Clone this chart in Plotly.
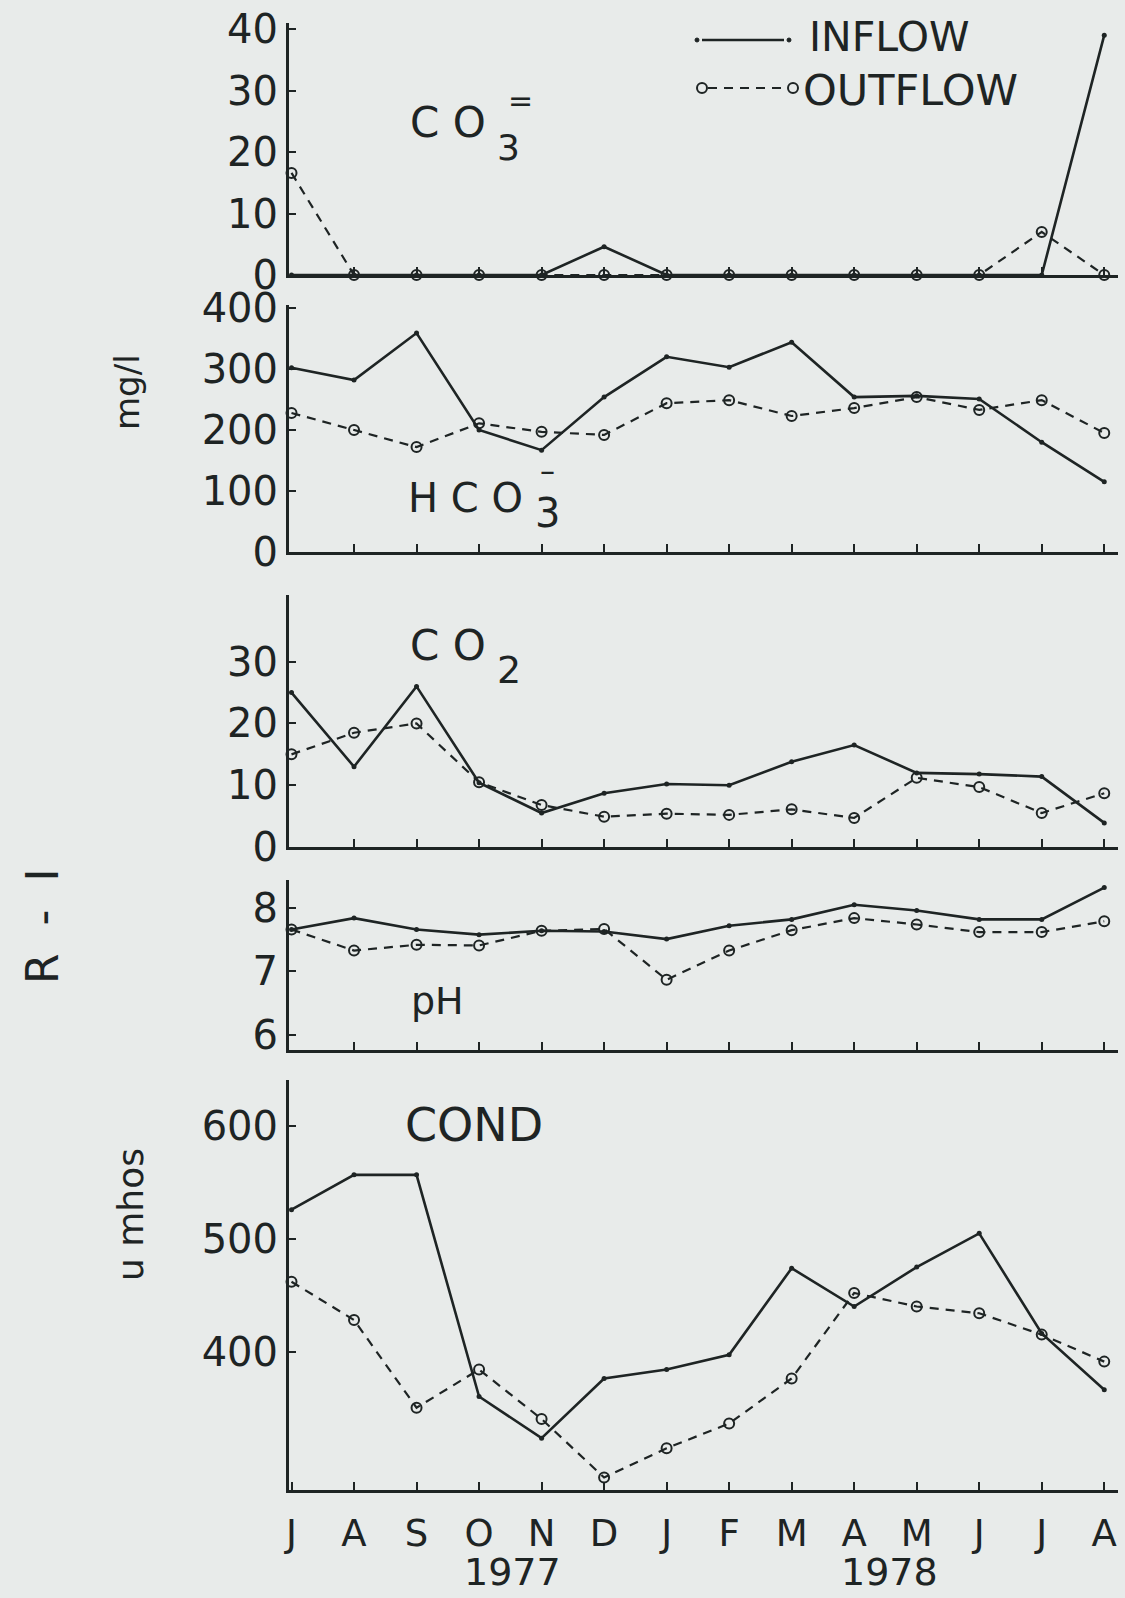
import plotly.graph_objects as go

# ---------------- data ----------------
months = ["J", "A", "S", "O", "N", "D", "J", "F", "M", "A", "M", "J", "J", "A"]
years = ["1977", "1978"]
x_idx = list(range(len(months)))

co3_inflow = [0, 0, 0, 0, 0, 4.6, 0, 0, 0, 0, 0, 0, 0, 39.0]
co3_outflow = [16.6, 0, 0, 0, 0, 0, 0, 0, 0, 0, 0, 0, 7.0, 0]

hco3_inflow = [302, 282, 359, 200, 167, 254, 320, 303, 344, 254, 256, 251, 180, 115]
hco3_outflow = [228, 200, 172, 211, 197, 192, 244, 249, 223, 236, 254, 233, 249, 195]

co2_inflow = [25, 13, 26, 10.4, 5.5, 8.7, 10.2, 10, 13.8, 16.5, 12, 11.8, 11.4, 3.9]
co2_outflow = [15, 18.5, 20, 10.5, 6.8, 4.9, 5.4, 5.2, 6.1, 4.7, 11.2, 9.7, 5.5, 8.7]

ph_inflow = [7.66, 7.84, 7.66, 7.58, 7.64, 7.63, 7.51, 7.72, 7.82, 8.05, 7.96, 7.82, 7.82, 8.32]
ph_outflow = [7.66, 7.33, 7.42, 7.41, 7.64, 7.67, 6.87, 7.33, 7.65, 7.84, 7.74, 7.62, 7.62, 7.79]

cond_inflow = [526, 557, 557, 360, 323, 376, 384, 397, 474, 440, 475, 505, 416, 366]
cond_outflow = [462, 428, 350, 384, 340, 288, 314, 336, 376, 452, 440, 434, 415, 391]

co3_ticks = [0, 10, 20, 30, 40]
hco3_ticks = [0, 100, 200, 300, 400]
co2_ticks = [0, 10, 20, 30]
ph_ticks = [6, 7, 8]
cond_ticks = [400, 500, 600]

# ---------------- style / layout ----------------
W, H = 1125, 1598
ML, MR = 289, 7
PW = W - ML - MR
BG = "#e8ebea"
INK = "#1e2424"
FONT = "DejaVu Sans"


def py(p):
    return 1 - p / H


def px(p):
    return (p - ML) / PW


panels = [
    # (inflow, outflow, ticks, y-range, top px, bottom px)
    (co3_inflow, co3_outflow, co3_ticks, [0, 40.98], 23, 275),
    (hco3_inflow, hco3_outflow, hco3_ticks, [0, 405], 305, 552),
    (co2_inflow, co2_outflow, co2_ticks, [0, 40.8], 595, 847),
    (ph_inflow, ph_outflow, ph_ticks, [5.764, 8.44], 880, 1050),
    (cond_inflow, cond_outflow, cond_ticks, [276.9, 641.3], 1080, 1490),
]

fig = go.Figure()
layout = dict(
    width=W, height=H,
    margin=dict(l=ML, r=MR, t=0, b=0, pad=0),
    paper_bgcolor=BG, plot_bgcolor=BG,
    showlegend=False,
    template="none",
    font=dict(family=FONT, color=INK),
)

for i, (inf, outf, ticks, yr, top, bot) in enumerate(panels):
    n = i + 1
    xa = "x" if n == 1 else f"x{n}"
    ya = "y" if n == 1 else f"y{n}"
    fig.add_trace(go.Scatter(
        x=x_idx, y=outf, xaxis=xa, yaxis=ya, mode="lines+markers",
        line=dict(color=INK, width=2.2, dash="9px,7px"),
        marker=dict(symbol="circle-open", size=10, color=INK, line=dict(width=2, color=INK)),
        cliponaxis=False, name="OUTFLOW"))
    fig.add_trace(go.Scatter(
        x=x_idx, y=inf, xaxis=xa, yaxis=ya, mode="lines+markers",
        line=dict(color=INK, width=2.6),
        marker=dict(symbol="circle", size=5, color=INK),
        cliponaxis=False, name="INFLOW"))
    last = n == len(panels)
    layout["xaxis" if n == 1 else f"xaxis{n}"] = dict(
        domain=[0, 1], anchor=ya, range=[-0.04, 13.22],
        showline=True, linewidth=3, linecolor=INK,
        ticks="inside", ticklen=8, tickwidth=2, tickcolor=INK,
        tickvals=x_idx[1:] if not last else x_idx,
        ticktext=months[1:] if not last else months,
        showticklabels=last, ticklabelstandoff=9,
        tickfont=dict(size=37, family=FONT, color=INK),
        showgrid=False, zeroline=False, fixedrange=True,
    )
    layout["yaxis" if n == 1 else f"yaxis{n}"] = dict(
        domain=[py(bot), py(top)], anchor=xa, range=yr,
        showline=True, linewidth=3, linecolor=INK,
        ticks="inside", ticklen=7, tickwidth=2, tickcolor=INK,
        tickvals=ticks, ticktext=[str(t) for t in ticks],
        ticklabelstandoff=0,
        tickfont=dict(size=40, family=FONT, color=INK),
        showgrid=False, zeroline=False, fixedrange=True,
    )

fig.update_layout(**layout)


def note(text, x, y, size, angle=0, xanchor="center"):
    fig.add_annotation(text=text, x=px(x), y=py(y), xref="paper", yref="paper",
                       showarrow=False, xanchor=xanchor, yanchor="middle",
                       textangle=angle, font=dict(family=FONT, size=size, color=INK))


# panel labels
note("C O", 448, 122, 42)
note("3", 508, 147, 36)
note("=", 520, 100, 30)
note("H C O", 465, 498, 40)
note("3", 547, 513, 40)
note("\u2013", 547, 471, 30)
note("C O", 448, 645, 42)
note("2", 509, 670, 38)
note("pH", 437, 1001, 38)
note("COND", 474, 1125, 46)

# axis side labels
note("mg/l", 127, 392, 34, angle=-90)
note("R  -  I", 42, 926, 44, angle=-90)
note("u mhos", 130, 1215, 36, angle=-90)

# year labels
note(years[0], 512, 1572, 38)
note(years[1], 889, 1572, 38)

# legend
note("INFLOW", 807, 37, 41, xanchor="left")
note("OUTFLOW", 801, 90, 43, xanchor="left")
fig.add_shape(type="line", xref="paper", yref="paper",
              x0=px(702), x1=px(784), y0=py(40), y1=py(40),
              line=dict(color=INK, width=2.5))
for cx in (697, 789):
    fig.add_shape(type="circle", xref="paper", yref="paper",
                  x0=px(cx - 2), x1=px(cx + 2), y0=py(42), y1=py(38),
                  line=dict(color=INK, width=1), fillcolor=INK)
fig.add_shape(type="line", xref="paper", yref="paper",
              x0=px(708), x1=px(788), y0=py(88), y1=py(88),
              line=dict(color=INK, width=2, dash="9px,7px"))
for cx in (702, 793):
    fig.add_shape(type="circle", xref="paper", yref="paper",
                  x0=px(cx - 5), x1=px(cx + 5), y0=py(93), y1=py(83),
                  line=dict(color=INK, width=2), fillcolor=BG)

fig.write_html("out.html")
